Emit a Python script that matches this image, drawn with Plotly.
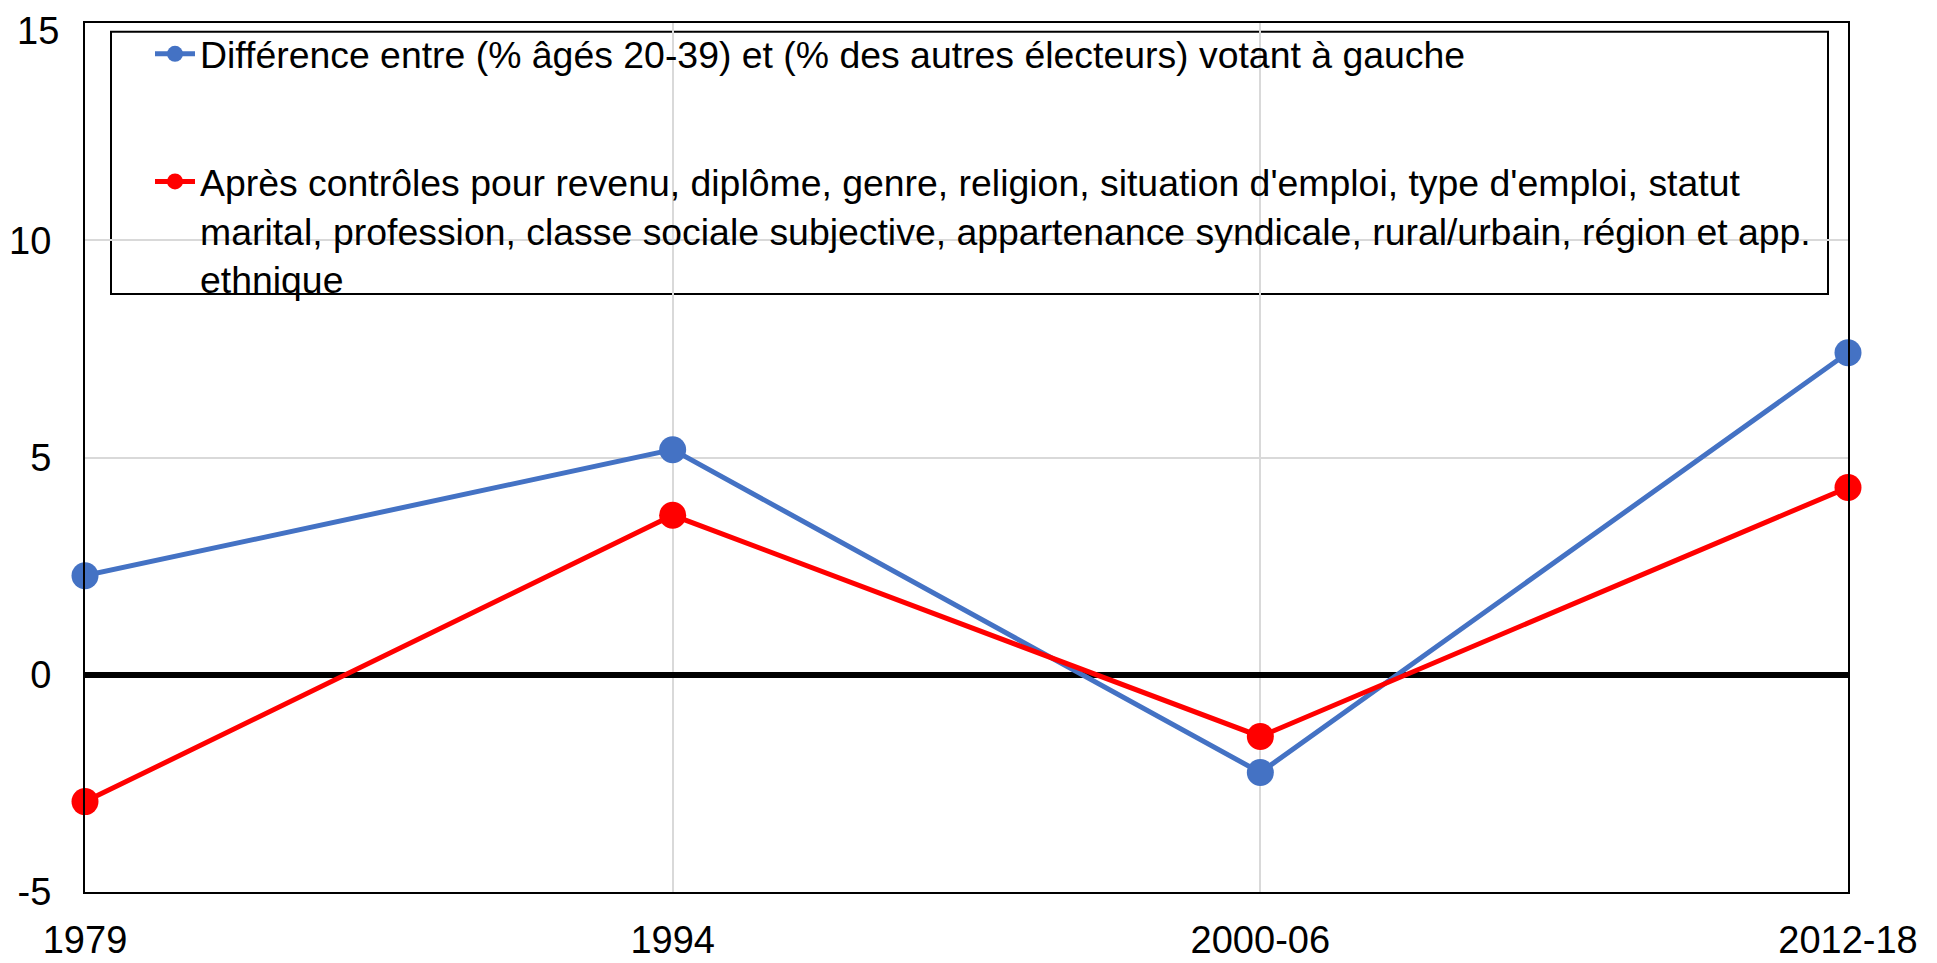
import plotly.graph_objects as go

categories = ["1979", "1994", "2000-06", "2012-18"]
diff_raw = [2.28, 5.18, -2.25, 7.41]
diff_ctrl = [-2.92, 3.67, -1.42, 4.31]
y_ticks = [-5, 0, 5, 10]
y_tick_labels = ["-5", "0", "5", "10"]
y_top = 15
y_top_label = "15"

name_raw = "Différence entre (% âgés 20-39) et (% des autres électeurs) votant à gauche"
name_ctrl = ("Après contrôles pour revenu, diplôme, genre, religion, situation d'emploi, type d'emploi, statut<br>"
             "marital, profession, classe sociale subjective, appartenance syndicale, rural/urbain, région et app.<br>"
             "ethnique")

FONT = "Liberation Sans, Arial, sans-serif"
OFF = 8  # default page body margin
W, H = 1937 - OFF, 963 - OFF
ML, MR, MT, MB = 77, 89, 15, 71
PW, PH = W - ML - MR, H - MT - MB

def px_x(p):  # page pixel -> paper fraction
    return (p - OFF - ML) / PW

def px_y(p):
    return 1 - (p - OFF - MT) / PH

fig = go.Figure()
fig.add_trace(go.Scatter(
    x=categories, y=diff_raw, mode="lines+markers", name=name_raw,
    legendgroup="a",
    line=dict(color="#4472C4", width=5),
    marker=dict(color="#4472C4", size=27),
    cliponaxis=False,
))
fig.add_trace(go.Scatter(
    x=categories, y=diff_ctrl, mode="lines+markers", name=name_ctrl,
    legendgroup="b",
    line=dict(color="#FF0000", width=5),
    marker=dict(color="#FF0000", size=27),
    cliponaxis=False,
))

fig.add_shape(type="rect", xref="paper", yref="paper",
              x0=px_x(111), x1=px_x(1828), y0=px_y(294), y1=px_y(31.7),
              line=dict(color="black", width=2), fillcolor="white", layer="between")

# top tick label as annotation, nudged down slightly so it stays inside the page
fig.add_annotation(text=y_top_label, xref="paper", yref="y", x=0, y=y_top,
                   xanchor="right", yanchor="middle", xshift=-24, yshift=-8,
                   showarrow=False, font=dict(family=FONT, size=38, color="black"))

fig.update_layout(
    width=W, height=H,
    margin=dict(l=ML, r=MR, t=MT, b=MB, autoexpand=False),
    paper_bgcolor="white", plot_bgcolor="white",
    font=dict(family=FONT, color="black", size=38),
    showlegend=True,
    legend=dict(
        x=px_x(150), y=px_y(23), xanchor="left", yanchor="top",
        bgcolor="rgba(0,0,0,0)", borderwidth=0,
        font=dict(family=FONT, size=37.4, color="black"),
        tracegroupgap=76, traceorder="grouped", valign="top",
        itemwidth=40,
    ),
    xaxis=dict(
        type="category", range=[0, 3], automargin=False,
        showgrid=True, gridcolor="#d9d9d9", gridwidth=2,
        showline=True, linecolor="black", linewidth=2, mirror=True,
        ticks="", tickfont=dict(size=38, family=FONT, color="black"),
        ticklabelstandoff=13, ticklabeloverflow="allow",
    ),
    yaxis=dict(
        range=[-5, 15], tickvals=y_ticks, ticktext=y_tick_labels, automargin=False,
        showgrid=True, gridcolor="#d9d9d9", gridwidth=2,
        zeroline=True, zerolinecolor="black", zerolinewidth=6,
        showline=True, linecolor="black", linewidth=2, mirror=True,
        ticks="", tickfont=dict(size=38, family=FONT, color="black"),
        ticklabelstandoff=24, ticklabeloverflow="allow",
    ),
)

fig.write_html("out.html")
